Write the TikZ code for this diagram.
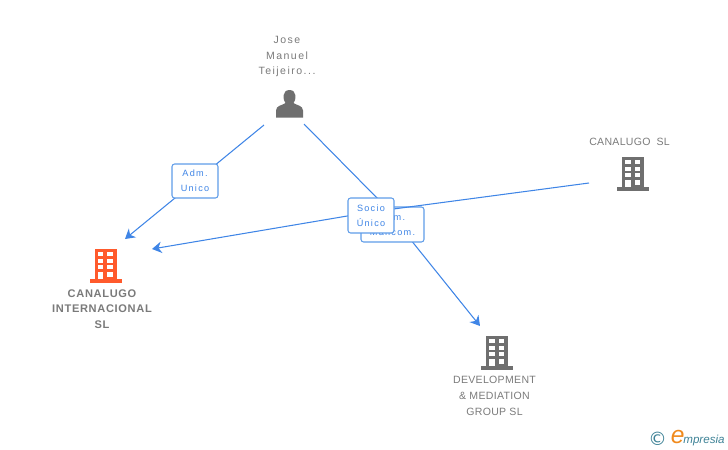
\documentclass[tikz,border=0pt]{standalone}
\usepackage{fontspec}
\setmainfont[LetterSpace=3]{Liberation Sans}
\newfontfamily\logofont{DejaVu Sans}
\newfontfamily\logotext{Liberation Sans}
\usetikzlibrary{arrows.meta}
\definecolor{linkblue}{HTML}{3F85E6}
\definecolor{boxblue}{HTML}{5F9CE8}
\definecolor{icongray}{HTML}{6F6F6F}
\definecolor{textgray}{HTML}{7A7A7A}
\definecolor{iconorange}{HTML}{FF5A2C}
\definecolor{logoteal}{HTML}{3E8296}
\definecolor{logoorange}{HTML}{F08A1D}
\tikzset{
    link/.style={draw=linkblue,line width=0.6pt,-{Stealth[length=5.5pt,width=6.5pt]}},
    rolebox/.style={draw=boxblue,fill=white,rounded corners=1.5pt,line width=0.6pt,text=linkblue,font=\fontsize{5.2}{8.5}\selectfont\addfontfeature{LetterSpace=14},align=center,inner sep=0pt},
    entity/.style={text=textgray,font=\fontsize{6}{8.9}\selectfont,align=center,inner sep=0pt},
    pics/buildingicon/.style={code={
        \fill[#1] (-10.5,-16.5) rectangle (11.5,15);
        \fill[#1] (-15.5,14) rectangle (16.5,17.5);
        \foreach \yy in {-13,-6.5,0}{
            \fill[white] (-7.2,\yy) rectangle (-1.8,\yy+4.2);
            \fill[white] (2.3,\yy) rectangle (7.7,\yy+4.2);
        }
        \fill[white] (-7.2,7) rectangle (-1.8,14);
        \fill[white] (2.3,7) rectangle (7.7,11.5);
    }}
}
\begin{document}
\begin{tikzpicture}[x=0.02cm,y=-0.02cm]
    \useasboundingbox (0,0) rectangle (728,450);
    % end points of the links
    \coordinate (personl) at (264,125);
    \coordinate (personr) at (304,124);
    \coordinate (intl) at (125,239);
    \coordinate (intr) at (152,249);
    \coordinate (devel) at (480,326);
    \coordinate (lugo) at (589,183);
    \coordinate (bendd) at (378,199);
    \coordinate (bendi) at (371,212);
    % companies and person
    \pic at (105,265) {buildingicon=iconorange};
    \pic at (496.5,352) {buildingicon=icongray};
    \pic at (632.5,173) {buildingicon=icongray};
    \fill[icongray] (276,117.5) -- (276,110.5) .. controls (276,105.5) and (282,105.5) .. (285.5,103)
        .. controls (282.5,100) and (282,90) .. (289.5,90) .. controls (297,90) and (296.5,100) .. (293.5,103)
        .. controls (297,105.5) and (303,105.5) .. (303,110.5) -- (303,117.5) -- cycle;
    % names
    \node[entity,font=\fontsize{6}{8.6}\selectfont\addfontfeature{LetterSpace=14}] (person) at (287,56.5) {Jose\\Manuel\\Teijeiro...};
    \node[entity] (canalugo) at (629.5,142) {CANALUGO\hspace{1.5pt} SL};
    \node[entity,font=\fontsize{6.3}{8.9}\selectfont\bfseries\addfontfeature{LetterSpace=6}] (internacional) at (102,309) {CANALUGO\\INTERNACIONAL\\SL};
    \node[entity] (development) at (494.5,396) {DEVELOPMENT\\\& MEDIATION\\GROUP SL};
    % links
    \draw[link] (personl) -- (intl);
    \draw[link] (personr) -- (bendd) -- (devel);
    \node[rolebox,minimum width=0.92cm,minimum height=0.68cm] (admunico) at (195,181) {Adm.\\Unico};
    \node[rolebox,minimum width=1.26cm,minimum height=0.7cm] (mancom) at (392.5,224.5) {Adm.\\Mancom.};
    \draw[link] (lugo) -- (bendi) -- (intr);
    \node[rolebox,minimum width=0.92cm,minimum height=0.7cm] (socio) at (371,215.5) {Socio\\Único};
    % logo
    \node[inner sep=0pt,text=logoteal,font=\logofont\fontsize{10.5}{10.5}\selectfont] (copy) at (657.5,438.5) {©};
    \node[inner sep=0pt,anchor=base west,text=logoorange,font=\logotext\fontsize{14}{14}\selectfont\itshape] (bige) at (670.5,443.5) {e};
    \node[inner sep=0pt,anchor=base west,text=logoteal,font=\logotext\fontsize{6.6}{8}\selectfont\itshape] (empresia) at (683,443.5) {mpresia};
\end{tikzpicture}
\end{document}
